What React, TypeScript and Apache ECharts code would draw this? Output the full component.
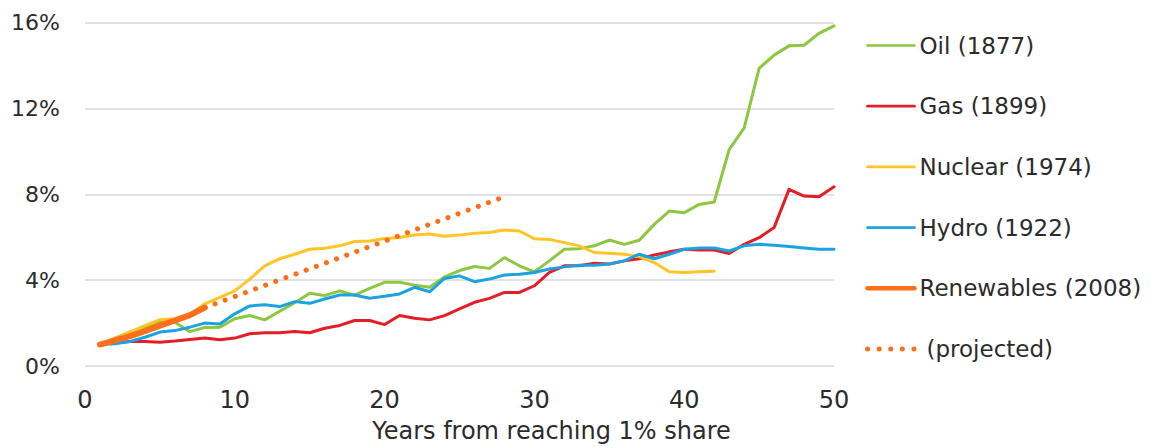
import React, { useEffect, useRef } from "react";
import * as echarts from "echarts";

const seriesNames = [
  "Oil (1877)",
  "Gas (1899)",
  "Nuclear (1974)",
  "Hydro (1922)",
  "Renewables (2008)",
  "(projected)",
];

const colors = ["#8dc63f", "#e31e24", "#ffc425", "#1aa3e0", "#ff6f1a", "#ff6f1a"];

// Share of primary energy (%) by years from reaching 1% share, year 1 onward
const oil = [
  1.0, 1.3, 1.58, 1.81, 2.04, 2.04, 1.6, 1.8, 1.81, 2.2,
  2.35, 2.15, 2.55, 2.95, 3.39, 3.28, 3.5, 3.3, 3.62, 3.9,
  3.9, 3.77, 3.67, 4.15, 4.45, 4.64, 4.55, 5.05, 4.67, 4.39,
  4.9, 5.44, 5.47, 5.6, 5.87, 5.67, 5.86, 6.6, 7.22, 7.14,
  7.53, 7.64, 10.08, 11.09, 13.87, 14.49, 14.92, 14.95, 15.5, 15.85,
];
const gas = [
  1.0, 1.08, 1.14, 1.14, 1.11, 1.16, 1.23, 1.3, 1.22, 1.3,
  1.5, 1.55, 1.55, 1.61, 1.55, 1.76, 1.89, 2.12, 2.12, 1.93,
  2.35, 2.23, 2.15, 2.35, 2.66, 2.97, 3.15, 3.43, 3.43, 3.74,
  4.36, 4.67, 4.67, 4.79, 4.75, 4.9, 5.0, 5.17, 5.32, 5.44,
  5.41, 5.41, 5.24, 5.67, 5.98, 6.45, 8.23, 7.92, 7.89, 8.35,
];
const nuclear = [
  1.0, 1.27, 1.58, 1.88, 2.16, 2.2, 2.4, 2.9, 3.2, 3.5,
  4.05, 4.67, 5.0, 5.21, 5.44, 5.49, 5.6, 5.8, 5.83, 5.94,
  5.99, 6.11, 6.15, 6.05, 6.1, 6.19, 6.22, 6.34, 6.29, 5.93,
  5.9, 5.75, 5.6, 5.29, 5.26, 5.21, 5.1, 4.82, 4.39, 4.36,
  4.39, 4.42,
];
const hydro = [
  1.0, 1.04, 1.14, 1.34, 1.58, 1.65, 1.81, 2.0, 1.96, 2.43,
  2.8, 2.85, 2.77, 3.0, 2.92, 3.12, 3.31, 3.31, 3.16, 3.25,
  3.36, 3.67, 3.46, 4.08, 4.2, 3.93, 4.05, 4.24, 4.28, 4.36,
  4.52, 4.62, 4.7, 4.7, 4.75, 4.9, 5.21, 5.0, 5.21, 5.44,
  5.5, 5.5, 5.36, 5.6, 5.67, 5.63, 5.57, 5.5, 5.44, 5.44,
];
const renewables = [1.0, 1.19, 1.39, 1.62, 1.88, 2.12, 2.37, 2.72];
const projectedYears = [8, 27.8];
const projectedValues = [2.72, 7.84];

const xTicks = [0, 10, 20, 30, 40, 50];
const yTicks = [0, 4, 8, 12, 16];

const FONT = "DejaVu Sans";
const TEXT = "#2b2b2b";

export default function App() {
  const ref = useRef<HTMLDivElement>(null);

  useEffect(() => {
    const chart = echarts.init(ref.current!, null, { renderer: "svg" });
    const toPairs = (arr: number[]) => arr.map((v, i) => [i + 1, v]);
    const projected = projectedYears.map((x, i) => [x, projectedValues[i]]);

    const lineSeries = (name: string, data: number[][], color: string, width: number, extra: any = {}) => ({
      name,
      type: "line",
      data,
      symbol: "none",
      showSymbol: false,
      smooth: false,
      color,
      lineStyle: { color, width, cap: "round", join: "round", ...extra },
      emphasis: { disabled: true },
      z: 2,
    });

    chart.setOption({
      animation: false,
      grid: { left: 85, right: 324, top: 22.7, bottom: 80.7, containLabel: false },
      xAxis: {
        type: "value",
        min: xTicks[0],
        max: xTicks[xTicks.length - 1],
        interval: 10,
        name: "Years from reaching 1% share",
        nameLocation: "middle",
        nameGap: 53,
        nameTextStyle: {
          fontFamily: FONT,
          fontSize: 24,
          color: TEXT,
          padding: [0, 0, 0, 184],
        },
        axisLine: { show: false },
        axisTick: { show: false },
        splitLine: { show: false },
        axisLabel: { fontFamily: FONT, fontSize: 24, color: TEXT, margin: 22 },
      },
      yAxis: {
        type: "value",
        min: yTicks[0],
        max: yTicks[yTicks.length - 1],
        interval: 4,
        axisLine: { show: false },
        axisTick: { show: false },
        splitLine: { show: true, lineStyle: { color: "#d9d9d9", width: 1.5 } },
        axisLabel: {
          fontFamily: FONT,
          fontSize: 22,
          color: TEXT,
          margin: 25,
          formatter: "{value}%",
        },
      },
      legend: {
        orient: "vertical",
        left: 865,
        top: 34,
        padding: 0,
        itemWidth: 47,
        itemHeight: 14,
        itemGap: 37.7,
        selectedMode: false,
        textStyle: { fontFamily: FONT, fontSize: 23, color: TEXT },
        data: seriesNames.map((name, i) => ({
          name,
          itemStyle: { opacity: 0 },
          textStyle:
            i === 5
              ? { fontFamily: FONT, fontSize: 23, color: TEXT, padding: [0, 0, 0, 7] }
              : { fontFamily: FONT, fontSize: 23, color: TEXT },
          lineStyle:
            i === 5
              ? { color: colors[i], width: 5, type: [0.1, 11.5], cap: "round" }
              : { color: colors[i], width: i === 4 ? 4.5 : 2.7, type: "solid" },
        })),
      },
      series: [
        lineSeries(seriesNames[0], toPairs(oil), colors[0], 3),
        lineSeries(seriesNames[1], toPairs(gas), colors[1], 3),
        lineSeries(seriesNames[2], toPairs(nuclear), colors[2], 3),
        lineSeries(seriesNames[3], toPairs(hydro), colors[3], 3),
        lineSeries(seriesNames[4], toPairs(renewables), colors[4], 6),
        lineSeries(seriesNames[5], projected, colors[5], 5, { type: [0.1, 10.7], cap: "round" }),
      ],
    });

    return () => chart.dispose();
  }, []);

  return (
    <div
      ref={ref}
      style={{ position: "absolute", left: 0, top: 0, width: 1158, height: 448 }}
    />
  );
}
